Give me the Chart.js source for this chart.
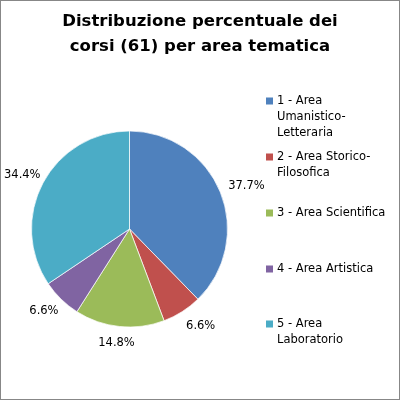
<!DOCTYPE html>
<html>
<head>
<meta charset="utf-8">
<script src="https://cdn.jsdelivr.net/npm/chart.js@4/dist/chart.umd.min.js"></script>
<style>
html,body{margin:0;padding:0;background:#fff;}
#wrap{width:400px;height:400px;position:relative;}
</style>
</head>
<body>
<div id="wrap"><canvas id="c" width="400" height="400"></canvas></div>
<script>
const titleLines = ["Distribuzione percentuale dei", "corsi (61) per area tematica"];
const categories = ["1 - Area Umanistico-Letteraria", "2 - Area Storico-Filosofica", "3 - Area Scientifica", "4 - Area Artistica", "5 - Area Laboratorio"];
const legendLines = [["1 - Area", "Umanistico-", "Letteraria"], ["2 - Area Storico-", "Filosofica"], ["3 - Area Scientifica"], ["4 - Area Artistica"], ["5 - Area", "Laboratorio"]];
const courseCounts = [23, 4, 9, 4, 21];
const colors = ["#4F81BD", "#C0504D", "#9BBB59", "#8064A2", "#4BACC6"];

const FONT = "'DejaVu Sans', Verdana, sans-serif";

const decor = {
  id: 'decor',
  afterDraw(chart) {
    const ctx = chart.ctx;
    ctx.save();
    // border
    ctx.strokeStyle = '#878787';
    ctx.lineWidth = 1;
    ctx.strokeRect(0.5, 0.5, 399, 399);
    // title
    ctx.fillStyle = '#000';
    ctx.font = 'bold 16.5px ' + FONT;
    ctx.textAlign = 'center';
    ctx.textBaseline = 'middle';
    titleLines.forEach((t, i) => ctx.fillText(t, 200, 22 + i * 25));
    // legend
    const firstY = [101, 157, 213, 269, 324];
    ctx.font = '11.5px ' + FONT;
    ctx.textAlign = 'left';
    legendLines.forEach((lines, i) => {
      ctx.fillStyle = colors[i];
      ctx.fillRect(266, firstY[i] - 3.5, 7, 7);
      ctx.fillStyle = '#000';
      lines.forEach((l, j) => ctx.fillText(l, 277, firstY[i] + j * 16));
    });
    // data labels
    const meta = chart.getDatasetMeta(0);
    const total = courseCounts.reduce((a, b) => a + b, 0);
    ctx.textAlign = 'center';
    meta.data.forEach((arc, i) => {
      const p = arc.getProps(['x', 'y', 'startAngle', 'endAngle', 'outerRadius'], true);
      const mid = (p.startAngle + p.endAngle) / 2;
      const dx = Math.cos(mid), dy = Math.sin(mid);
      const txt = (courseCounts[i] / total * 100).toFixed(1) + '%';
      const w = ctx.measureText(txt).width;
      const h = 13;
      const r = p.outerRadius + 10;
      let cx = p.x + dx * r + dx * w / 2 + (dx > 0 && dy > 0 ? dx * 10 : 0);
      const cy = p.y + dy * r + dy * h / 2;
      cx = Math.max(cx, 4 + w / 2);
      ctx.fillText(txt, cx, cy);
    });
    ctx.restore();
  }
};

new Chart(document.getElementById('c'), {
  type: 'pie',
  data: {
    labels: categories,
    datasets: [{
      data: courseCounts,
      backgroundColor: colors,
      borderColor: 'rgba(255,255,255,0.7)',
      borderWidth: 1
    }]
  },
  options: {
    responsive: false,
    animation: false,
    devicePixelRatio: 1,
    layout: { padding: { left: 31, right: 172, top: 130, bottom: 72 } },
    plugins: {
      legend: { display: false },
      title: { display: false },
      tooltip: { enabled: false }
    }
  },
  plugins: [decor]
});
</script>
</body>
</html>
